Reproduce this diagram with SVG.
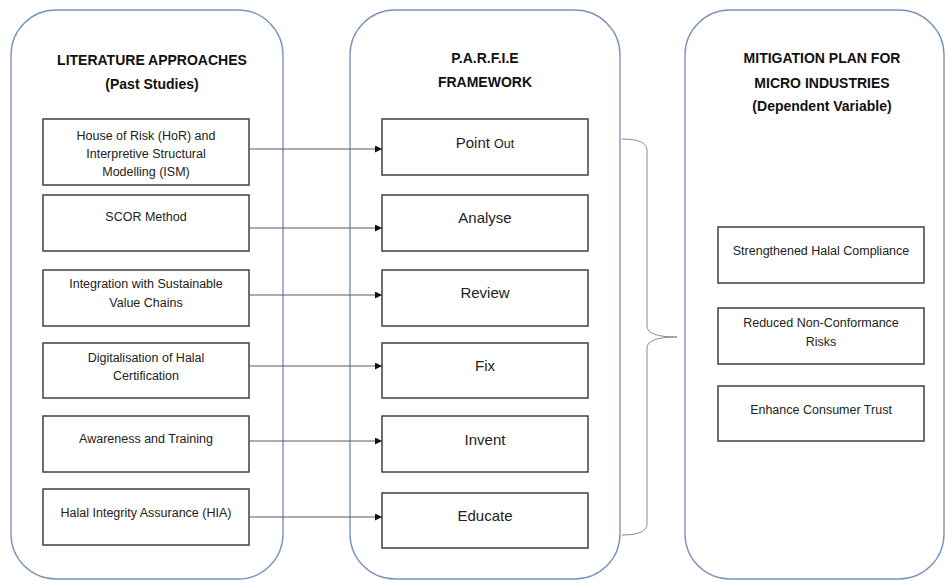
<svg xmlns="http://www.w3.org/2000/svg" width="945" height="581" viewBox="0 0 945 581">
<style>
.panel{fill:#fff;stroke:#7a94bd;stroke-width:1.4}
.box{fill:#fff;stroke:#404040;stroke-width:1.5}
.title{font-family:"Liberation Sans",Arial,sans-serif;font-weight:bold;font-size:14px;fill:#111;text-anchor:middle}
.t{font-family:"Liberation Sans",Arial,sans-serif;font-size:12.5px;fill:#222;text-anchor:middle}
.m{font-family:"Liberation Sans",Arial,sans-serif;font-size:15px;fill:#222;text-anchor:middle}
.conn{stroke:#5a5a5a;stroke-width:1;fill:none}
.brace{stroke:#8a8a8a;stroke-width:1;fill:none}
</style>
<defs>
<marker id="ah" viewBox="0 0 10 10" refX="10" refY="5" markerWidth="7" markerHeight="7" markerUnits="userSpaceOnUse" orient="auto">
<path d="M0,0 L10,5 L0,10 z" fill="#111"/>
</marker>
</defs>
<rect width="945" height="581" fill="#fff"/>

<g id="panel-literature">
<rect class="panel" x="11" y="10" width="272" height="569" rx="45" ry="45"/>
<text class="title" x="152" y="65">LITERATURE APPROACHES</text>
<text class="title" x="152" y="89">(Past Studies)</text>
</g>
<g id="panel-parfie">
<rect class="panel" x="350" y="10" width="270" height="569" rx="45" ry="45"/>
<text class="title" x="485" y="63">P.A.R.F.I.E</text>
<text class="title" x="485" y="87">FRAMEWORK</text>
</g>
<g id="panel-mitigation">
<rect class="panel" x="685" y="10" width="259" height="569" rx="45" ry="45"/>
<text class="title" x="822" y="63">MITIGATION PLAN FOR</text>
<text class="title" x="822" y="88">MICRO INDUSTRIES</text>
<text class="title" x="822" y="111">(Dependent Variable)</text>
</g>

<g id="lit-hor"><rect class="box" x="43" y="119" width="206" height="66"/>
<text class="t" x="146" y="140">House of Risk (HoR) and</text>
<text class="t" x="146" y="158">Interpretive Structural</text>
<text class="t" x="146" y="176">Modelling (ISM)</text></g>
<g id="lit-scor"><rect class="box" x="43" y="195" width="206" height="56"/>
<text class="t" x="146" y="221">SCOR Method</text></g>
<g id="lit-integration"><rect class="box" x="43" y="270" width="206" height="56"/>
<text class="t" x="146" y="288">Integration with Sustainable</text>
<text class="t" x="146" y="307">Value Chains</text></g>
<g id="lit-digital"><rect class="box" x="43" y="343" width="206" height="55"/>
<text class="t" x="146" y="362">Digitalisation of Halal</text>
<text class="t" x="146" y="380">Certification</text></g>
<g id="lit-awareness"><rect class="box" x="43" y="416" width="206" height="56"/>
<text class="t" x="146" y="443">Awareness and Training</text></g>
<g id="lit-hia"><rect class="box" x="43" y="489" width="206" height="56"/>
<text class="t" x="146" y="517">Halal Integrity Assurance (HIA)</text></g>

<g id="p-point"><rect class="box" x="382" y="119" width="206" height="56"/>
<text class="m" x="485" y="148">Point <tspan font-size="12.5">Out</tspan></text></g>
<g id="p-analyse"><rect class="box" x="382" y="195" width="206" height="56"/>
<text class="m" x="485" y="223">Analyse</text></g>
<g id="p-review"><rect class="box" x="382" y="270" width="206" height="56"/>
<text class="m" x="485" y="298">Review</text></g>
<g id="p-fix"><rect class="box" x="382" y="343" width="206" height="55"/>
<text class="m" x="485" y="371">Fix</text></g>
<g id="p-invent"><rect class="box" x="382" y="416" width="206" height="56"/>
<text class="m" x="485" y="445">Invent</text></g>
<g id="p-educate"><rect class="box" x="382" y="493" width="206" height="55"/>
<text class="m" x="485" y="521">Educate</text></g>

<g id="m-halal"><rect class="box" x="718" y="227" width="206" height="56"/>
<text class="t" x="821" y="255">Strengthened Halal Compliance</text></g>
<g id="m-risks"><rect class="box" x="718" y="308" width="206" height="56"/>
<text class="t" x="821" y="327">Reduced Non-Conformance</text>
<text class="t" x="821" y="346">Risks</text></g>
<g id="m-trust"><rect class="box" x="718" y="386" width="206" height="55"/>
<text class="t" x="821" y="414">Enhance Consumer Trust</text></g>

<g id="connectors">
<line class="conn" x1="249" y1="149" x2="382" y2="149" marker-end="url(#ah)"/>
<line class="conn" x1="249" y1="228" x2="382" y2="228" marker-end="url(#ah)"/>
<line class="conn" x1="249" y1="295" x2="382" y2="295" marker-end="url(#ah)"/>
<line class="conn" x1="249" y1="366" x2="382" y2="366" marker-end="url(#ah)"/>
<line class="conn" x1="249" y1="441" x2="382" y2="441" marker-end="url(#ah)"/>
<line class="conn" x1="249" y1="517" x2="382" y2="517" marker-end="url(#ah)"/>
<path class="brace" d="M622,139 Q647,139 647,150 L647,326 Q647,337 677,337 Q647,337 647,348 L647,524 Q647,535 622,535"/>
</g>
</svg>
